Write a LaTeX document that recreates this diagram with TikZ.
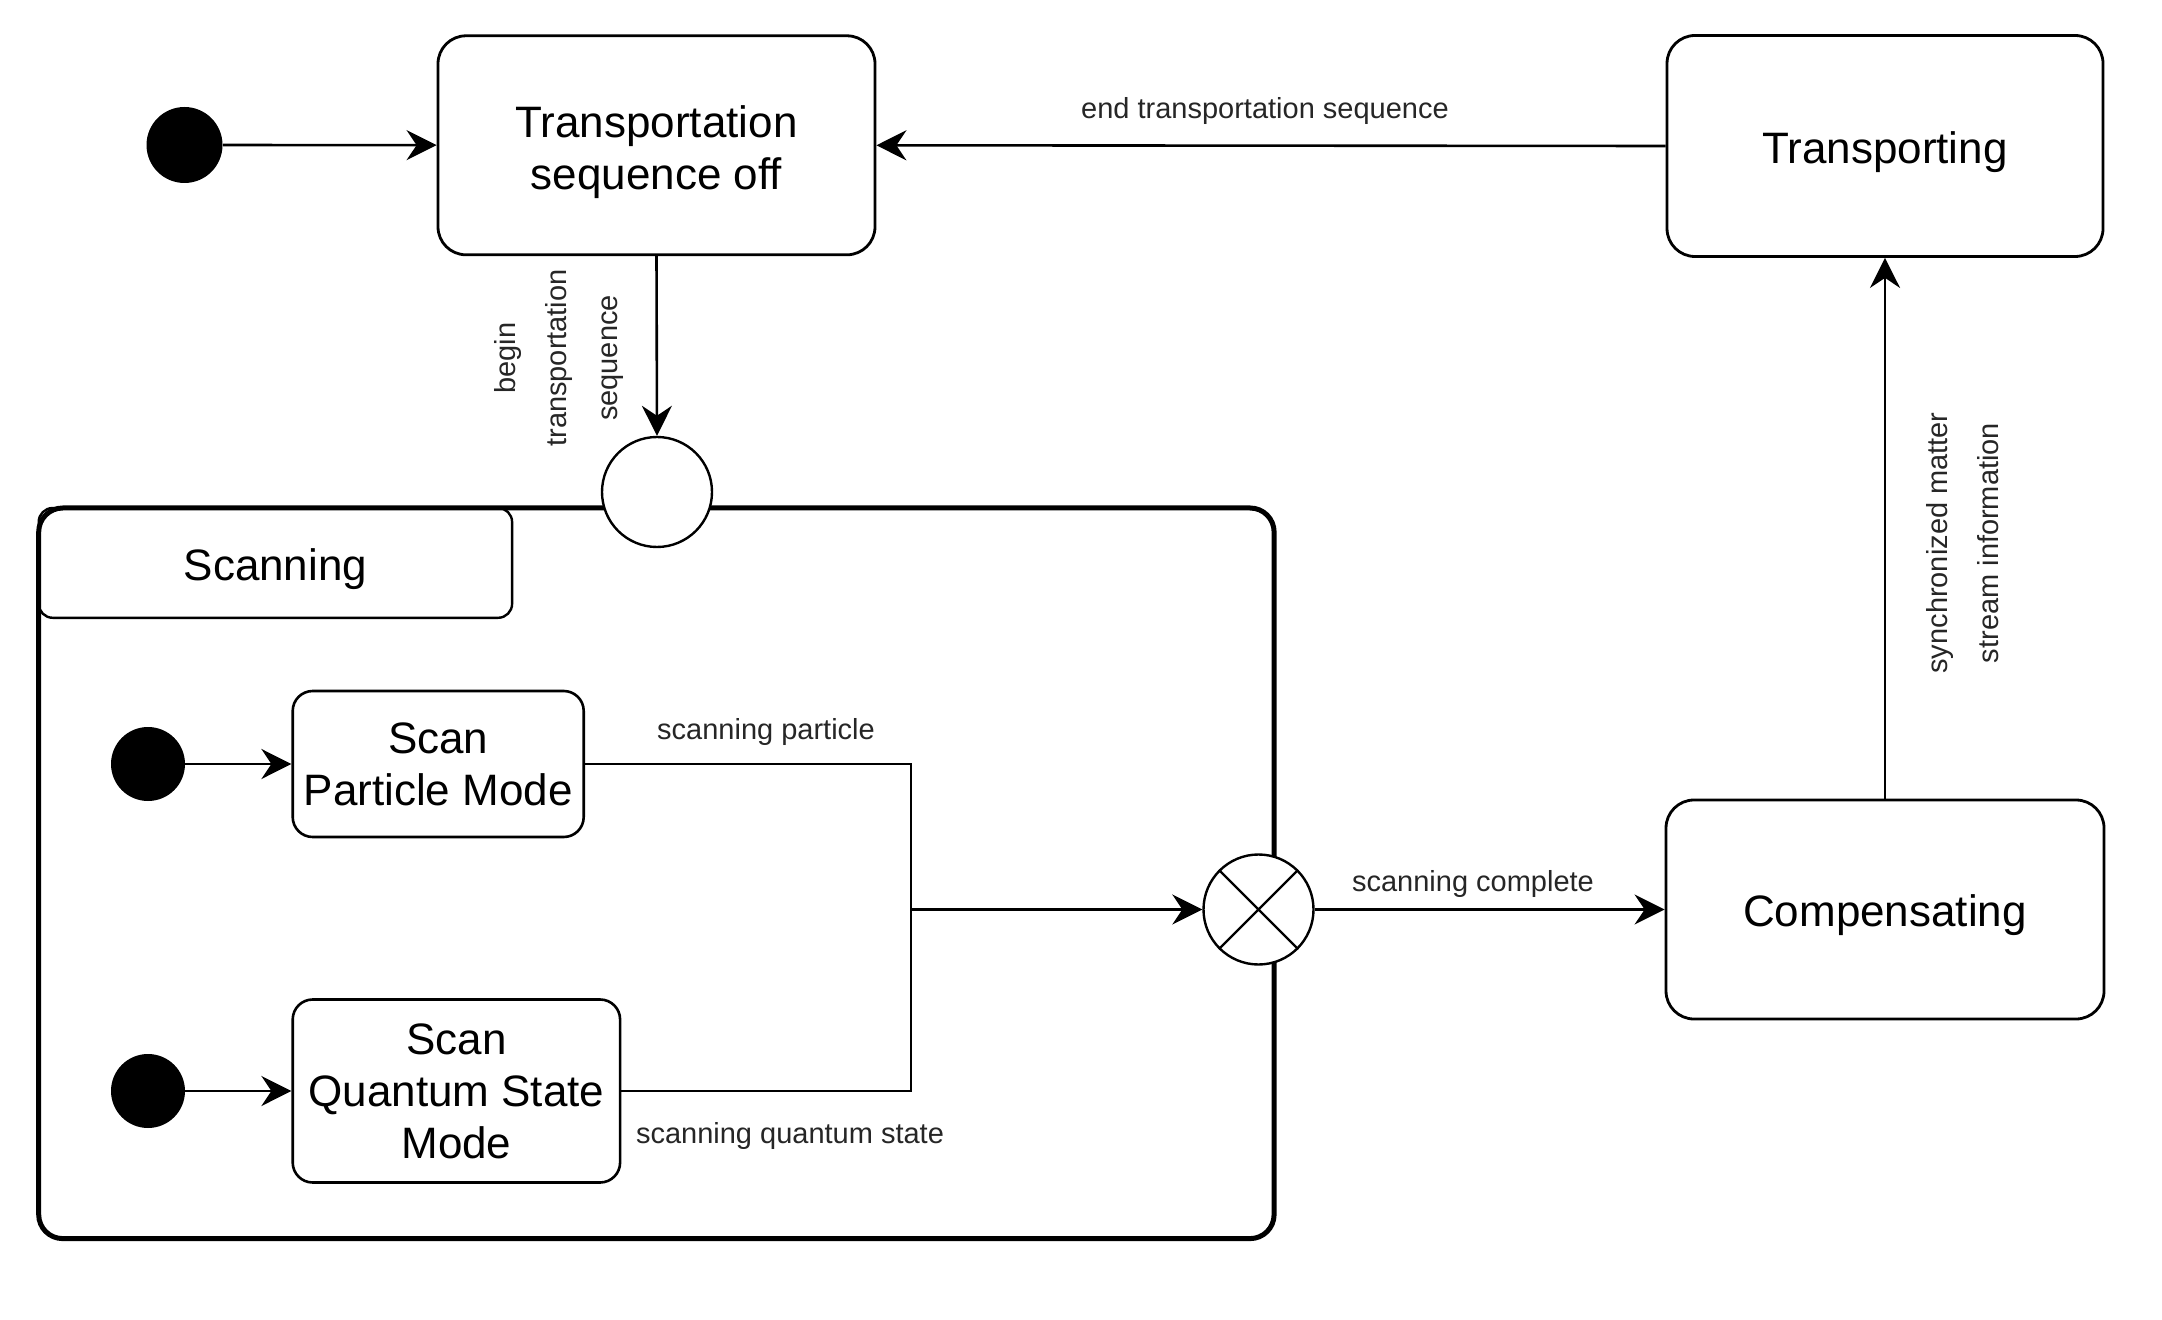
\documentclass[tikz,border=0pt]{standalone}
\usepackage{fontspec}
\setmainfont{Liberation Sans}
\usetikzlibrary{arrows.meta}
\begin{document}
\begin{tikzpicture}[x=0.5pt,y=-0.5pt,
  state/.style={draw=black,line width=1.4pt,rounded corners=14pt,align=center,
    font=\fontsize{22}{26}\selectfont,inner sep=0pt},
  statetext/.style={align=center,font=\fontsize{22}{26}\selectfont,inner sep=0pt},
  substate/.style={state,rounded corners=10pt,line width=1.3pt},
  initdot/.style={circle,fill=black,draw=none,inner sep=0pt},
  ring/.style={circle,draw=black,fill=white,line width=1.2pt,inner sep=0pt,minimum size=55pt},
  conn/.style={line width=1.3pt,draw=black},
  arr/.style={conn,-{Stealth[length=15pt,width=15pt,inset=5pt]}},
  lbl/.style={font=\fontsize{14.5}{25.5}\selectfont,text=black!85,inner sep=1pt,align=center}
]
\useasboundingbox (0,0) rectangle (2162,1320);
\fill[white] (0,0) rectangle (2162,1320);

% top row
\node[initdot,minimum size=38pt] (init1) at (184.5,145) {};
\node[state,minimum width=218.5pt,minimum height=109.5pt] (tso) at (656.5,145.3) {};
\node[statetext] (tsoT) at ([yshift=-3.5pt]tso.center) {Transportation\\sequence off};
\node[state,minimum width=218pt,minimum height=110.5pt] (trp) at (1885,146) {};
\node[statetext] (trpT) at ([yshift=-3pt]trp.center) {Transporting};
\node[state,minimum width=219pt,minimum height=109.5pt] (comp) at (1885,909.5) {};
\node[statetext] (compT) at ([yshift=-3pt]comp.center) {Compensating};

% scanning composite state
\node[draw=black,line width=2.5pt,rounded corners=12pt,minimum width=617.7pt,minimum height=365.3pt,inner sep=0pt] (scan) at (656.4,873.3) {};
\node[draw=black,line width=1.2pt,rounded corners=7pt,minimum width=236.7pt,minimum height=54.9pt,inner sep=0pt] (tab) at (275.4,562.9) {};
\node[statetext] (tabT) at ([yshift=-3pt]tab.center) {Scanning};

\node[ring] (entry) at (657,492) {};
\node[ring] (xj) at (1258.5,909.5) {};
\draw[line width=1.2pt] (xj.45) -- (xj.225) (xj.135) -- (xj.315);

\node[substate,minimum width=145.5pt,minimum height=73pt] (spm) at (438.2,764) {Scan\\Particle Mode};
\node[substate,minimum width=163.7pt,minimum height=91.5pt] (qsm) at (456.4,1091) {Scan\\Quantum State\\Mode};
\node[initdot,minimum size=37pt] (init2) at (148,764) {};
\node[initdot,minimum size=37pt] (init3) at (148,1091) {};
\coordinate (j) at (911,909.5);

% connectors
\draw[arr] (init1) -- (tso);
\draw[arr] (trp.west) -- (tso.east);
\draw[arr] (tso.south) -- (entry.north);
\draw[arr] (comp.north) -- (trp.south);
\draw[arr] (init2) -- (spm.west);
\draw[arr] (init3) -- (qsm.west);
\draw[conn] (spm.east) -| (j);
\draw[conn] (qsm.east) -| (j);
\draw[arr] (j) -- (xj.west);
\draw[arr] (xj.east) -- (comp.west);

% labels
\node[lbl] (lend) at (1265,111) {end transportation sequence};
\node[lbl,rotate=90] (lbegin) at (559,358) {begin\\transportation\\sequence};
\node[lbl,rotate=90] (lsync) at (1963,543) {synchronized matter\\stream information};
\node[lbl] (lsp) at (766,732) {scanning particle};
\node[lbl] (lsq) at (790,1135.5) {scanning quantum state};
\node[lbl] (lsc) at (1473,884) {scanning complete};
\end{tikzpicture}
\end{document}
